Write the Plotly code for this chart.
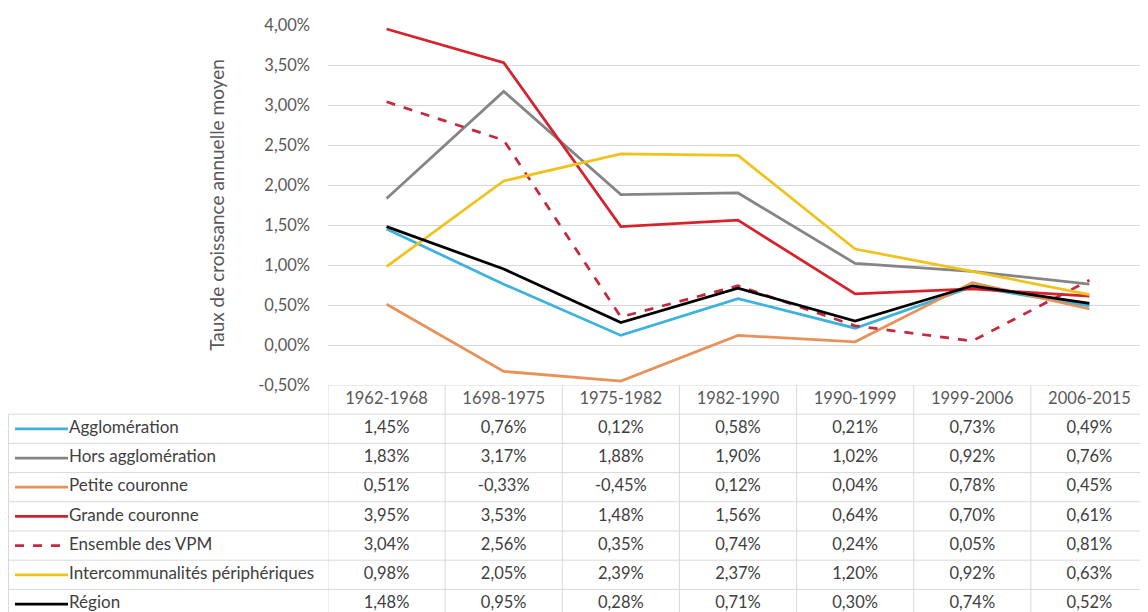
import plotly.graph_objects as go

# periods (note: "1698-1975" is spelled like this in the source)
periods = ["1962-1968", "1698-1975", "1975-1982", "1982-1990", "1990-1999", "1999-2006", "2006-2015"]

agglomeration = [1.45, 0.76, 0.12, 0.58, 0.21, 0.73, 0.49]
hors_agglomeration = [1.83, 3.17, 1.88, 1.90, 1.02, 0.92, 0.76]
petite_couronne = [0.51, -0.33, -0.45, 0.12, 0.04, 0.78, 0.45]
grande_couronne = [3.95, 3.53, 1.48, 1.56, 0.64, 0.70, 0.61]
ensemble_vpm = [3.04, 2.56, 0.35, 0.74, 0.24, 0.05, 0.81]
intercommunalites = [0.98, 2.05, 2.39, 2.37, 1.20, 0.92, 0.63]
region = [1.48, 0.95, 0.28, 0.71, 0.30, 0.74, 0.52]

y_ticks = [-0.5, 0.0, 0.5, 1.0, 1.5, 2.0, 2.5, 3.0, 3.5, 4.0]

series = [
    ("Agglomération", agglomeration, "#3bb3dc", "solid"),
    ("Hors agglomération", hors_agglomeration, "#858585", "solid"),
    ("Petite couronne", petite_couronne, "#e8925a", "solid"),
    ("Grande couronne", grande_couronne, "#d7222c", "solid"),
    ("Ensemble des VPM", ensemble_vpm, "#c22a3e", "dash"),
    ("Intercommunalités périphériques", intercommunalites, "#f0c21c", "solid"),
    ("Région", region, "#000000", "solid"),
]

FONT = "Lato"
# the page body adds an 8px margin, so the figure is 8px smaller than the window
W, H = 1140, 604
grid = "#d9d9d9"
txt = "#404040"
lbl = "#595959"

# pixel layout of the Excel-like chart + table (figure coordinates)
x0 = 320 / W
y_plot = [1 - 377 / H, 1 - 17 / H]
row_h = 29.2
y2_bottom = -0.5 + 227 / row_h


def pct(v):
    return ("%.2f%%" % v).replace(".", ",")


fig = go.Figure()

# chart lines
for name, vals, color, dash in series:
    fig.add_trace(go.Scatter(
        x=periods, y=vals, mode="lines", name=name,
        line=dict(color=color, width=2.75, dash=dash),
        xaxis="x", yaxis="y", showlegend=False))

# table header
fig.add_trace(go.Scatter(
    x=periods, y=[0] * len(periods), mode="text", text=periods,
    textfont=dict(family=FONT, size=16.5, color=lbl),
    xaxis="x", yaxis="y2", showlegend=False, hoverinfo="skip"))

# table rows: legend key, label and values
for i, (name, vals, color, dash) in enumerate(series):
    row = i + 1
    fig.add_trace(go.Scatter(
        x=[7, 60], y=[row, row], mode="lines",
        line=dict(color=color, width=2.75, dash="dash" if dash == "dash" else "solid"),
        xaxis="x2", yaxis="y2", showlegend=False, hoverinfo="skip"))
    fig.add_trace(go.Scatter(
        x=[61], y=[row], mode="text", text=[name], textposition="middle right",
        textfont=dict(family=FONT, size=17, color=txt),
        xaxis="x2", yaxis="y2", showlegend=False, hoverinfo="skip"))
    fig.add_trace(go.Scatter(
        x=periods, y=[row] * len(periods), mode="text", text=[pct(v) for v in vals],
        textfont=dict(family=FONT, size=16.5, color=txt),
        xaxis="x", yaxis="y2", showlegend=False, hoverinfo="skip"))

# table borders
shapes = [dict(type="line", xref="paper", yref="y2", x0=x0, x1=1, y0=-0.5, y1=-0.5,
               line=dict(color=grid, width=1))]
for k in range(7):
    shapes.append(dict(type="line", xref="paper", yref="y2", x0=0.5 / W, x1=1,
                       y0=k + 0.5, y1=k + 0.5, line=dict(color=grid, width=1)))
for k in range(len(periods) + 1):
    shapes.append(dict(type="line", xref="x", yref="paper", x0=k - 0.5, x1=k - 0.5,
                       y0=0, y1=y_plot[0], line=dict(color=grid, width=1)))
shapes.append(dict(type="line", xref="x2", yref="y2", x0=0.5, x1=0.5, y0=0.5, y1=y2_bottom,
                   line=dict(color=grid, width=1)))

fig.update_layout(
    width=W, height=H,
    margin=dict(l=0, r=0, t=0, b=0, autoexpand=False),
    paper_bgcolor="white", plot_bgcolor="white",
    font=dict(family=FONT, color=lbl),
    xaxis=dict(domain=[x0, 1], range=[-0.5, 6.5], showticklabels=False, showgrid=False,
               zeroline=False, showline=False, anchor="y", fixedrange=True, automargin=False),
    yaxis=dict(domain=y_plot, range=[-0.5, 4.0], tickvals=y_ticks,
               ticktext=[pct(t) for t in y_ticks],
               showgrid=True, gridcolor=grid, gridwidth=1, zeroline=False, showline=False,
               tickfont=dict(family=FONT, size=16.5, color=lbl), ticks="",
               ticklabelstandoff=17, automargin=False,
               title=dict(text="Taux de croissance annuelle moyen",
                          font=dict(family=FONT, size=19, color=lbl), standoff=28),
               anchor="x"),
    xaxis2=dict(domain=[0, x0], range=[0, 320], visible=False, anchor="y2", automargin=False),
    yaxis2=dict(domain=[0, y_plot[0]], range=[y2_bottom, -0.5], visible=False, anchor="x2",
                automargin=False),
    shapes=shapes,
)

fig.write_html("out.html")
